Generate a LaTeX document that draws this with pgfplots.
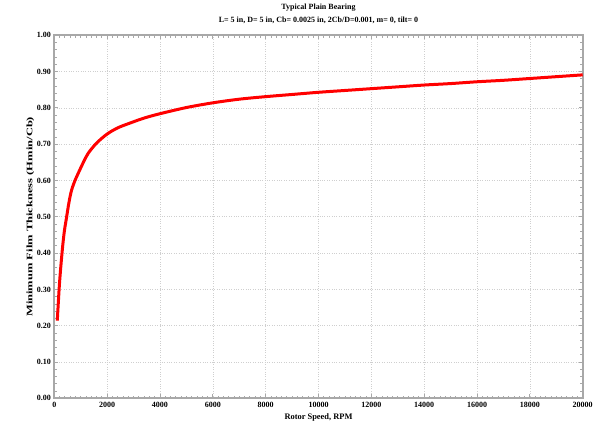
\documentclass[border=0pt]{standalone}
\usepackage{pgfplots}
\pgfplotsset{compat=1.18}
\usepackage{fontspec}
\setmainfont{Liberation Serif}
\definecolor{framegray}{HTML}{A8A8A8}
\definecolor{gridgray}{HTML}{CFCFCF}
\begin{document}
\begin{tikzpicture}
\useasboundingbox (-54.3bp,-29.7bp) rectangle (551.7bp,398.3bp);
\begin{axis}[
  scale only axis,
  width=528.4bp, height=363bp,
  at={(0,0)}, anchor=south west,
  xmin=0, xmax=20000, ymin=0, ymax=1,
  xtick={0,2000,...,20000},
  ytick={0,0.1,...,1.0},
  scaled x ticks=false,
  minor x tick num=9,
  minor y tick num=4,
  tick align=inside,
  ticks=both,
  major tick length=4bp,
  minor tick length=2.5bp,
  every tick/.style={framegray, line width=0.8bp},
  axis line style={framegray, line width=1.8bp},
  grid=major,
  major grid style={gridgray, dotted, line width=0.6bp},
  /pgf/number format/assume math mode=true,
  x tick label style={/pgf/number format/1000 sep={}},
  y tick label style={/pgf/number format/fixed, /pgf/number format/fixed zerofill, /pgf/number format/precision=2},
  ticklabel style={font=\fontsize{8bp}{9.6bp}\selectfont\bfseries, text=black},
  xlabel={Rotor Speed, RPM},
  ylabel={Minimum Film Thickness (Hmin/Cb)},
  xlabel style={font=\fontsize{8.4bp}{10bp}\selectfont\bfseries, at={(axis description cs:0.5,-0.053)}, anchor=center},
  ylabel style={font=\fontsize{8.4bp}{10bp}\selectfont\bfseries, at={(axis description cs:-0.0454,0.5)}, anchor=center, xscale=1.49},
  title={Typical Plain Bearing\\L= 5 in, D= 5 in, Cb= 0.0025 in, 2Cb/D=0.001, m= 0, tilt= 0},
  title style={font=\fontsize{8bp}{13bp}\selectfont\bfseries, align=center, at={(axis description cs:0.5,1)}, anchor=south, yshift=2bp},
  clip=false,
]
\addplot[red, line width=3bp, smooth, tension=0.5] coordinates {
(113,0.214) (200,0.32) (302,0.408) (380,0.46) (467,0.50) (556,0.540) (656,0.574)
(800,0.603) (906,0.620) (1100,0.650) (1283,0.675) (1600,0.703) (2000,0.728)
(2400,0.745) (2857,0.758) (3400,0.772) (4000,0.784) (5000,0.801) (6000,0.814)
(7000,0.824) (8000,0.831) (9000,0.837) (10000,0.843) (11000,0.848) (12000,0.853)
(13000,0.858) (14000,0.863) (15000,0.867) (16000,0.872) (17000,0.876) (18000,0.881)
(19000,0.886) (20000,0.891)
};
\end{axis}
\end{tikzpicture}
\end{document}
